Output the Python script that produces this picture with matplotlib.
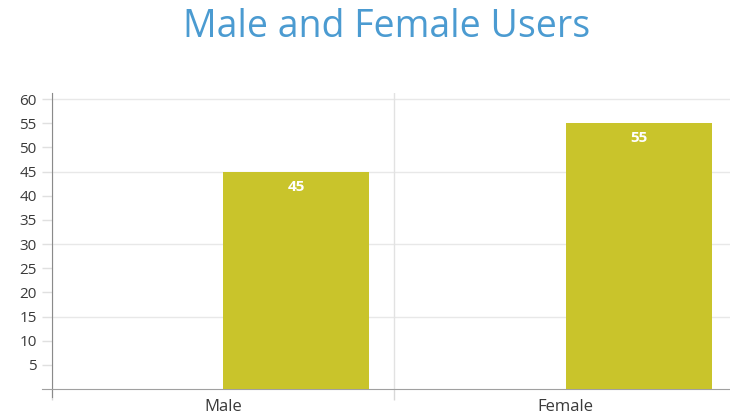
import numpy as np
import matplotlib.pyplot as plt

plt.rcParams['font.family'] = ['Open Sans', 'DejaVu Sans']

categories = ['Male', 'Female']
users = [45, 55]
yticks = list(range(5, 61, 5))
grid_levels = [15, 30, 45, 60]

bar_color = '#c9c42b'
title_color = '#4b9bd1'
text_color = '#3a3a3a'

fig = plt.figure(figsize=(7.30, 4.19), dpi=100)
# axes runs a bit past the right edge, like the original
ax = fig.add_axes([52/730, 1-389/419, 685/730, 296/419])

x = np.arange(len(categories))
bars = ax.bar(x, users, width=0.427, align='edge', color=bar_color, zorder=3)

for b, v in zip(bars, users):
    ax.text(b.get_x() + b.get_width()/2, v - 3.1, str(v), ha='center', va='center',
            color='white', fontsize=11, fontweight='bold', zorder=4)

for g in grid_levels:
    ax.axhline(g, color='#e8e8e8', linewidth=1, zorder=1)

ax.set_xlim(-0.5, len(categories) - 0.5)
ax.set_ylim(0, 61.25)

ax.set_xticks(x)
ax.set_xticklabels(categories, fontsize=12, color=text_color)
ax.tick_params(axis='x', which='major', length=0, pad=7)
ax.set_xticks(np.arange(len(categories) + 1) - 0.5, minor=True)
ax.tick_params(axis='x', which='minor', length=8, color='#d8d8d8', width=1)
ax.grid(axis='x', which='minor', color='#e2e2e2', linewidth=1, zorder=1)

ax.set_yticks(yticks)
ax.set_yticklabels([str(t) for t in yticks], fontsize=11, color=text_color)
ax.tick_params(axis='y', length=7, color='#e0e0e0', width=1, pad=4)

for s in ['top', 'right']:
    ax.spines[s].set_visible(False)
ax.spines['left'].set_color('#8a8a8a')
ax.spines['bottom'].set_color('#a0a0a0')
ax.spines['left'].set_bounds(-1.6, 61.25)
ax.spines['bottom'].set_bounds(-0.53, 1.5)

fig.text(387/730, 1-27/419, 'Male and Female Users', ha='center', va='center',
         fontsize=27, color=title_color)

fig.savefig('out.png', dpi=100)
